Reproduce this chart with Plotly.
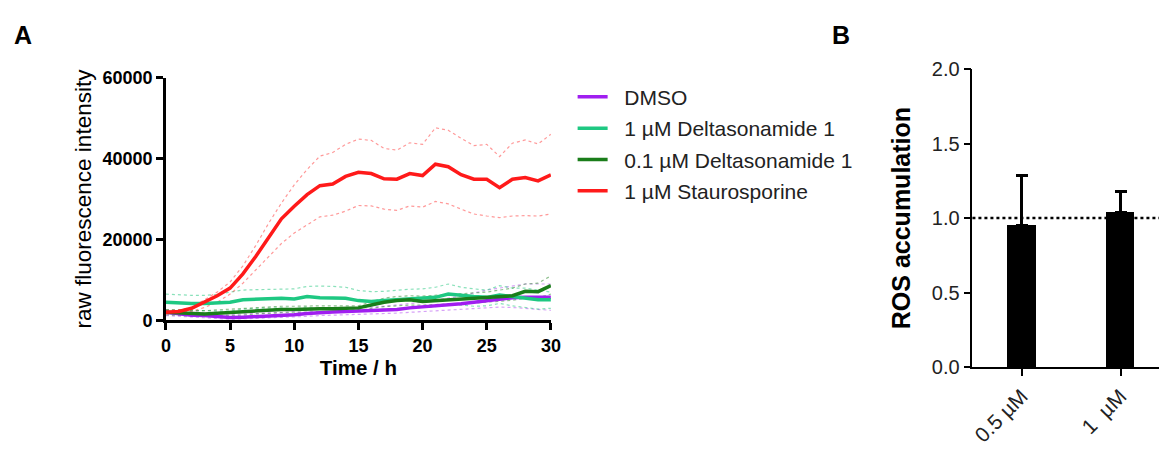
import plotly.graph_objects as go

W, H = 1169, 459

# ---------------- Panel A data ----------------
time_h = list(range(31))

dmso_mean = [2.0, 1.6, 1.3, 1.2, 0.9, 0.7, 0.8, 0.9, 1.0, 1.2, 1.4, 1.7, 2.0, 2.1, 2.2, 2.3,
             2.3, 2.5, 2.7, 3.1, 3.3, 3.5, 3.8, 4.1, 4.5, 4.9, 5.3, 5.6, 5.7, 5.7, 5.7]
dmso_upper = [2.5, 2.3, 2.0, 1.8, 1.6, 1.5, 1.6, 1.7, 1.8, 2.0, 2.2, 2.5, 2.8, 2.9, 3.0, 3.2,
              3.3, 3.5, 3.8, 4.1, 4.5, 5.0, 5.5, 6.0, 6.8, 7.5, 8.0, 8.5, 9.0, 9.0, 9.0]
dmso_lower = [1.2, 1.0, 0.8, 0.6, 0.4, 0.3, 0.4, 0.5, 0.6, 0.7, 0.8, 1.0, 1.2, 1.3, 1.4, 1.5,
              1.5, 1.6, 1.8, 2.0, 2.2, 2.4, 2.6, 2.8, 3.0, 3.2, 3.3, 3.2, 3.0, 2.7, 2.5]

delta1_mean = [4.5, 4.3, 4.2, 4.2, 4.3, 4.5, 5.1, 5.3, 5.3, 5.5, 5.3, 5.9, 5.6, 5.6, 5.5, 4.9,
               4.7, 4.9, 5.1, 5.3, 5.5, 5.7, 6.5, 6.1, 5.9, 5.7, 6.3, 5.9, 5.5, 5.1, 5.1]
delta1_upper = [6.5, 6.3, 6.2, 6.2, 6.4, 7.0, 7.5, 7.6, 7.7, 7.8, 7.8, 8.4, 8.5, 8.4, 8.2, 7.4,
                7.1, 7.2, 7.5, 7.7, 7.8, 8.2, 9.0, 8.2, 7.8, 7.5, 8.6, 8.0, 8.0, 7.5, 7.0]
delta1_lower = [2.7, 2.6, 2.4, 2.3, 2.3, 2.3, 2.8, 3.0, 3.0, 3.1, 2.9, 3.3, 2.9, 2.8, 2.8, 2.6,
                2.5, 2.8, 2.9, 3.1, 3.2, 3.4, 4.0, 3.8, 3.5, 3.6, 4.2, 3.6, 3.2, 2.8, 3.0]

delta01_mean = [2.0, 1.8, 1.7, 1.6, 1.8, 2.0, 2.1, 2.4, 2.6, 2.7, 2.7, 2.9, 2.9, 2.9, 3.0, 3.1,
                3.8, 4.5, 4.9, 5.1, 4.7, 4.9, 5.1, 5.1, 5.3, 5.5, 5.9, 6.1, 7.2, 7.1, 8.6]
delta01_upper = [2.6, 2.5, 2.4, 2.4, 2.6, 2.8, 3.0, 3.2, 3.4, 3.5, 3.5, 3.6, 3.6, 3.6, 3.6, 3.6,
                 4.6, 5.5, 5.9, 6.1, 6.0, 6.2, 6.4, 6.5, 6.8, 7.0, 7.5, 8.0, 9.0, 9.2, 11.0]
delta01_lower = [1.4, 1.2, 1.1, 1.0, 1.1, 1.2, 1.3, 1.6, 1.8, 1.9, 1.9, 2.1, 2.2, 2.2, 2.4, 2.5,
                 3.0, 3.4, 3.6, 3.8, 3.8, 3.9, 4.0, 4.1, 4.3, 4.5, 4.7, 5.0, 5.5, 5.6, 6.5]

stauro_mean = [2.0, 2.2, 3.0, 4.5, 6.1, 8.0, 11.5, 15.8, 20.5, 25.1, 28.2, 31.1, 33.3, 33.7, 35.6, 36.6,
               36.3, 35.0, 34.9, 36.3, 35.8, 38.6, 38.0, 36.0, 34.9, 34.9, 32.8, 34.9, 35.3, 34.5, 36.0]
stauro_upper = [2.5, 2.6, 3.2, 5.0, 7.0, 9.5, 13.5, 18.5, 24.0, 29.0, 33.5, 37.3, 40.6, 41.5, 43.5, 44.8,
                44.5, 42.5, 42.1, 43.9, 43.5, 47.6, 47.0, 45.0, 43.2, 43.5, 40.5, 43.8, 44.6, 43.6, 46.0]
stauro_lower = [1.6, 1.6, 2.2, 3.2, 4.5, 6.5, 9.2, 12.5, 15.8, 19.0, 21.6, 23.5, 25.6, 26.0, 27.0, 28.4,
                28.3, 27.5, 27.2, 28.3, 28.0, 29.4, 28.8, 27.5, 26.3, 25.8, 25.4, 25.8, 25.9, 25.8, 26.3]

series_names = ["DMSO", "1 µM Deltasonamide 1", "0.1 µM Deltasonamide 1", "1 µM Staurosporine"]
series_colors = ["#a01ef0", "#1ec882", "#1a7d1a", "#ff1a1a"]
series_band_colors = ["rgba(175,70,240,0.5)", "rgba(40,200,130,0.55)", "rgba(30,130,30,0.5)", "rgba(255,70,70,0.55)"]
series_means = [dmso_mean, delta1_mean, delta01_mean, stauro_mean]
series_uppers = [dmso_upper, delta1_upper, delta01_upper, stauro_upper]
series_lowers = [dmso_lower, delta1_lower, delta01_lower, stauro_lower]

y_ticks_a = [0, 20000, 40000, 60000]
x_ticks_a = [0, 5, 10, 15, 20, 25, 30]

# ---------------- Panel B data ----------------
b_categories = ["0.5 µM", "1  µM"]
b_values = [0.95, 1.04]
b_err_plus = [0.335, 0.14]
b_ticks = [0.0, 0.5, 1.0, 1.5, 2.0]
b_ref_line = 1.0

FONT = "Liberation Sans, Arial, sans-serif"
NB = "\u00a0\u00a0"  # gap between legend line and text

fig = go.Figure()

for name, col, up, lo in zip(series_names, series_band_colors, series_uppers, series_lowers):
    for band in (up, lo):
        fig.add_trace(go.Scatter(
            x=time_h, y=[v * 1000 for v in band], mode="lines",
            line=dict(color=col, width=1.2, dash="dot"),
            showlegend=False, hoverinfo="skip", xaxis="x", yaxis="y"))

for i, (name, col, m) in enumerate(zip(series_names, series_colors, series_means)):
    fig.add_trace(go.Scatter(
        x=time_h, y=[v * 1000 for v in m], mode="lines", name=NB + name,
        line=dict(color=col, width=3.5), legendgroup=f"g{i}",
        xaxis="x", yaxis="y"))

fig.add_trace(go.Bar(
    x=[0, 1], y=b_values, width=0.29, marker=dict(color="black", line=dict(width=0)),
    error_y=dict(type="data", symmetric=False, array=b_err_plus, arrayminus=[0, 0],
                 color="black", thickness=3, width=6),
    showlegend=False, xaxis="x2", yaxis="y2"))

x0a, x1a = 163 / W, 553 / W
y0a, y1a = 1 - 325 / H, 1 - 70 / H
x0b = 980 / W
y0b, y1b = 1 - 374 / H, 1 - 61 / H

fig.update_layout(
    width=W, height=H, margin=dict(l=0, r=0, t=0, b=0),
    paper_bgcolor="white", plot_bgcolor="white",
    font=dict(family=FONT, color="black"),
    bargap=0,
    xaxis=dict(domain=[x0a, x1a], range=[0, 30], tickvals=x_ticks_a,
               showgrid=False, zeroline=False, showline=True, linecolor="black", linewidth=2.5,
               ticks="outside", ticklen=7, tickwidth=2.5, tickcolor="black",
               tickfont=dict(size=18, family=FONT, weight="bold"),
               title=dict(text="<b>Time / h</b>", font=dict(size=20.5), standoff=6),
               anchor="y"),
    yaxis=dict(domain=[y0a, y1a], range=[0, 60000], tickvals=y_ticks_a,
               ticktext=[str(v) for v in y_ticks_a],
               showgrid=False, zeroline=False, showline=True, linecolor="black", linewidth=2.5,
               ticks="outside", ticklen=7, tickwidth=2.5, tickcolor="black",
               tickfont=dict(size=18, family=FONT, weight="bold"),
               title=dict(text="raw fluorescence intensity", font=dict(size=22.5), standoff=5),
               anchor="x"),
    xaxis2=dict(domain=[x0b, 1.0], range=[-0.5, 1.39], tickvals=[0, 1], ticktext=b_categories,
                tickangle=-45, showgrid=False, zeroline=False, showline=True,
                linecolor="black", linewidth=1.5, ticks="outside", ticklen=7, tickwidth=1.5,
                tickcolor="black", tickfont=dict(size=21, family=FONT, color="#222"),
                anchor="y2"),
    yaxis2=dict(domain=[y0b, y1b], range=[0, 2.0], tickvals=b_ticks,
                ticktext=[f"{v:.1f}" for v in b_ticks],
                showgrid=False, zeroline=False, showline=True, linecolor="black", linewidth=1.5,
                ticks="outside", ticklen=7, tickwidth=1.5, tickcolor="black",
                tickfont=dict(size=20, family=FONT, color="#222"),
                title=dict(text="<b>ROS accumulation</b>", font=dict(size=25), standoff=14),
                anchor="x2"),
    legend=dict(x=575 / W, y=1 - 69 / H, xanchor="left", yanchor="top",
                font=dict(size=21, family=FONT, color="#222"), tracegroupgap=1,
                bgcolor="rgba(0,0,0,0)", itemwidth=30),
    annotations=[
        dict(text="<b>A</b>", x=7 / W, y=1 - 8 / H, xref="paper", yref="paper",
             xanchor="left", yanchor="top", showarrow=False, font=dict(size=25, family=FONT)),
        dict(text="<b>B</b>", x=836 / W, y=1 - 8 / H, xref="paper", yref="paper",
             xanchor="left", yanchor="top", showarrow=False, font=dict(size=25, family=FONT)),
    ],
    shapes=[
        dict(type="line", xref="x2 domain", yref="y2", x0=0, x1=1, y0=b_ref_line, y1=b_ref_line,
             line=dict(color="black", width=2.5, dash="dot"), layer="above"),
    ],
)

fig.write_html("out.html", post_script="document.body.style.margin='0';",
               config={"displayModeBar": False})
